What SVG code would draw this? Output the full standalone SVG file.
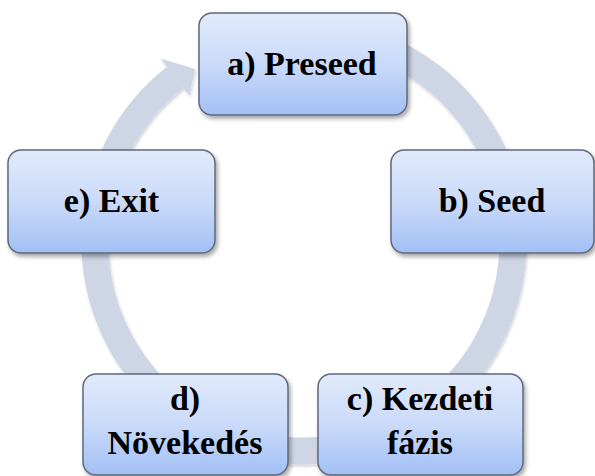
<svg xmlns="http://www.w3.org/2000/svg" width="595" height="476" viewBox="0 0 595 476">
  <defs>
    <linearGradient id="boxFill" x1="0" y1="0" x2="0" y2="1">
      <stop offset="0" stop-color="#E1EAFB"/>
      <stop offset="0.5" stop-color="#CADAF9"/>
      <stop offset="1" stop-color="#A2BFF5"/>
    </linearGradient>
    <filter id="shadow" x="-10%" y="-10%" width="125%" height="130%">
      <feDropShadow dx="2" dy="3" stdDeviation="2" flood-color="#000" flood-opacity="0.35"/>
    </filter>
    <filter id="ringShadow" x="-10%" y="-10%" width="120%" height="120%">
      <feDropShadow dx="1" dy="2" stdDeviation="1.5" flood-color="#000" flood-opacity="0.18"/>
    </filter>
  </defs>
  <style>
    .box { fill: url(#boxFill); stroke: #5E6A7C; stroke-width: 1.5; filter: url(#shadow); }
    .lbl { font-family: 'Liberation Serif', 'Times New Roman', serif; font-weight: bold; font-size: 34px; fill: #000; text-anchor: middle; }
    .ring { fill: none; stroke: #CED5E5; stroke-width: 27; }
    .head { fill: #CED5E5; }
  </style>
  <rect width="595" height="476" fill="#FFFFFF"/>
  <g id="connectors" filter="url(#ringShadow)">
    <path class="ring" d="M 322.2 33.8 A 209 209 0 1 1 175.3 77.3"/>
    <polygon class="head" points="160.5,58.4 195,69 189.5,95.4"/>
  </g>
  <g id="node-a">
    <rect class="box" x="199" y="13" width="208" height="102" rx="13" ry="13"/>
    <text class="lbl" x="302" y="75">a) Preseed</text>
  </g>
  <g id="node-b">
    <rect class="box" x="391" y="150" width="203" height="103" rx="13" ry="13"/>
    <text class="lbl" x="492" y="212">b) Seed</text>
  </g>
  <g id="node-c">
    <rect class="box" x="318" y="374" width="205" height="101" rx="13" ry="13"/>
    <text class="lbl" x="420" y="410">c) Kezdeti</text>
    <text class="lbl" x="420" y="454">fázis</text>
  </g>
  <g id="node-d">
    <rect class="box" x="83" y="374" width="205" height="101" rx="13" ry="13"/>
    <text class="lbl" x="185" y="410">d)</text>
    <text class="lbl" x="185" y="454">Növekedés</text>
  </g>
  <g id="node-e">
    <rect class="box" x="8" y="150" width="207" height="103" rx="13" ry="13"/>
    <text class="lbl" x="111.5" y="212">e) Exit</text>
  </g>
</svg>
